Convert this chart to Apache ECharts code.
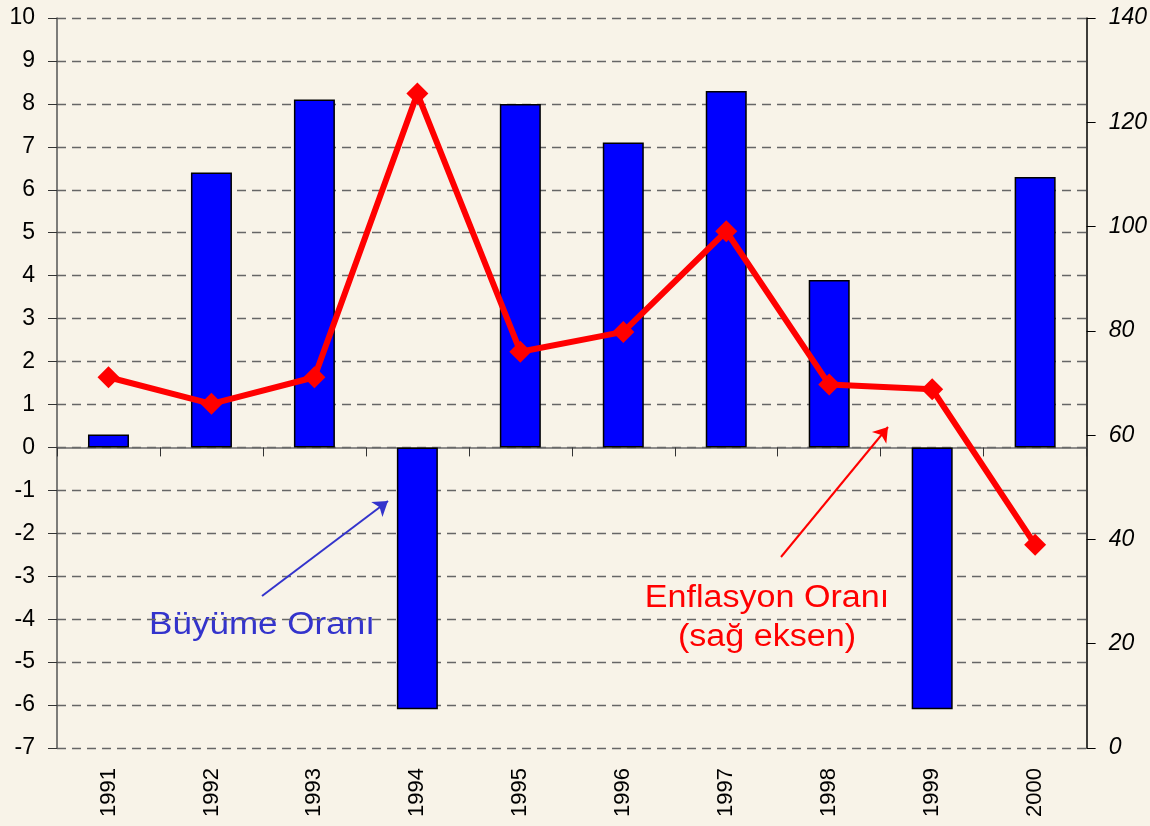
<!DOCTYPE html>
<html>
<head>
<meta charset="utf-8">
<script src="https://cdn.jsdelivr.net/npm/echarts@6/dist/echarts.min.js"></script>
<style>
  html, body { margin: 0; padding: 0; background: #f8f3e8; }
  #chart { width: 1150px; height: 826px; }
</style>
</head>
<body>
<div id="chart"></div>
<script>
// yıllar
const years = ["1991", "1992", "1993", "1994", "1995", "1996", "1997", "1998", "1999", "2000"];
// büyüme oranı (%), sol eksen
const growth = [0.3, 6.4, 8.1, -6.1, 8.0, 7.1, 8.3, 3.9, -6.1, 6.3];
// enflasyon oranı (%), sağ eksen
const inflation = [71.1, 66.0, 71.1, 125.5, 76.0, 79.8, 99.1, 69.7, 68.8, 39.0];

const font = "'Liberation Sans', Arial, sans-serif";

const chart = echarts.init(document.getElementById("chart"));

const option = {
  backgroundColor: "#f8f3e8",
  animation: false,
  grid: { left: 57, right: 62, top: 18, bottom: 78 },
  xAxis: [
    {
      // sıfır çizgisi, kategoriler arası çentikler
      type: "category",
      data: years,
      boundaryGap: true,
      axisLine: { onZero: true, lineStyle: { color: "#6b6b6b", width: 1.5 } },
      axisTick: { show: true, length: 9, lineStyle: { color: "#333" } },
      axisLabel: { show: false },
    },
    {
      // yıl etiketleri altta
      type: "category",
      data: years,
      position: "bottom",
      axisLine: { show: false, onZero: false },
      axisTick: { show: false },
      axisLabel: {
        rotate: 90,
        margin: 20,
        fontSize: 22,
        fontFamily: font,
        color: "#000",
      },
    },
  ],
  yAxis: [
    {
      type: "value",
      min: -7,
      max: 10,
      interval: 1,
      position: "left",
      axisLine: { show: true, lineStyle: { color: "#555", width: 1.5 } },
      axisTick: { show: true, length: 9, lineStyle: { color: "#333" } },
      axisLabel: { margin: 22, fontSize: 23, fontFamily: font, color: "#000" },
      splitLine: {
        show: true,
        lineStyle: { color: "#666", type: [9, 6], width: 1.3 },
      },
    },
    {
      type: "value",
      min: 0,
      max: 140,
      interval: 20,
      position: "right",
      axisLine: { show: true, lineStyle: { color: "#000", width: 1.5 } },
      axisTick: { show: true, length: 9, lineStyle: { color: "#000" } },
      axisLabel: {
        margin: 22,
        fontSize: 23,
        fontStyle: "italic",
        fontFamily: font,
        color: "#000",
      },
      splitLine: { show: false },
    },
  ],
  series: [
    {
      name: "Büyüme Oranı",
      type: "bar",
      xAxisIndex: 0,
      yAxisIndex: 0,
      data: growth,
      barWidth: 41,
      itemStyle: { color: "#0000ff", borderColor: "#000", borderWidth: 1.5 },
      z: 2,
      markLine: {
        silent: true,
        symbol: ["none", "arrow"],
        symbolSize: 14,
        label: { show: false },
        lineStyle: { type: "solid", width: 2 },
        data: [
          [
            { x: 262, y: 596, lineStyle: { color: "#3333cc" }, itemStyle: { color: "#3333cc" } },
            { x: 388, y: 501 },
          ],
          [
            { x: 781, y: 557, lineStyle: { color: "#ff0000" }, itemStyle: { color: "#ff0000" } },
            { x: 888, y: 427 },
          ],
        ],
      },
    },
    {
      name: "Enflasyon Oranı",
      type: "line",
      xAxisIndex: 0,
      yAxisIndex: 1,
      data: inflation,
      symbol: "diamond",
      symbolSize: 22,
      lineStyle: { color: "#ff0000", width: 6 },
      itemStyle: { color: "#ff0000" },
      z: 5,
    },
  ],
  graphic: [
    {
      type: "text",
      x: 262,
      y: 625,
      scaleX: 1.13,
      style: {
        text: "Büyüme Oranı",
        fill: "#3333cc",
        font: "31px " + font,
        align: "center",
        verticalAlign: "middle",
      },
    },
    {
      type: "text",
      x: 767,
      y: 598,
      scaleX: 1.1,
      style: {
        text: "Enflasyon Oranı",
        fill: "#ff0000",
        font: "31px " + font,
        align: "center",
        verticalAlign: "middle",
      },
    },
    {
      type: "text",
      x: 767,
      y: 637,
      scaleX: 1.1,
      style: {
        text: "(sağ eksen)",
        fill: "#ff0000",
        font: "31px " + font,
        align: "center",
        verticalAlign: "middle",
      },
    },
  ],
};

chart.setOption(option);
</script>
</body>
</html>
